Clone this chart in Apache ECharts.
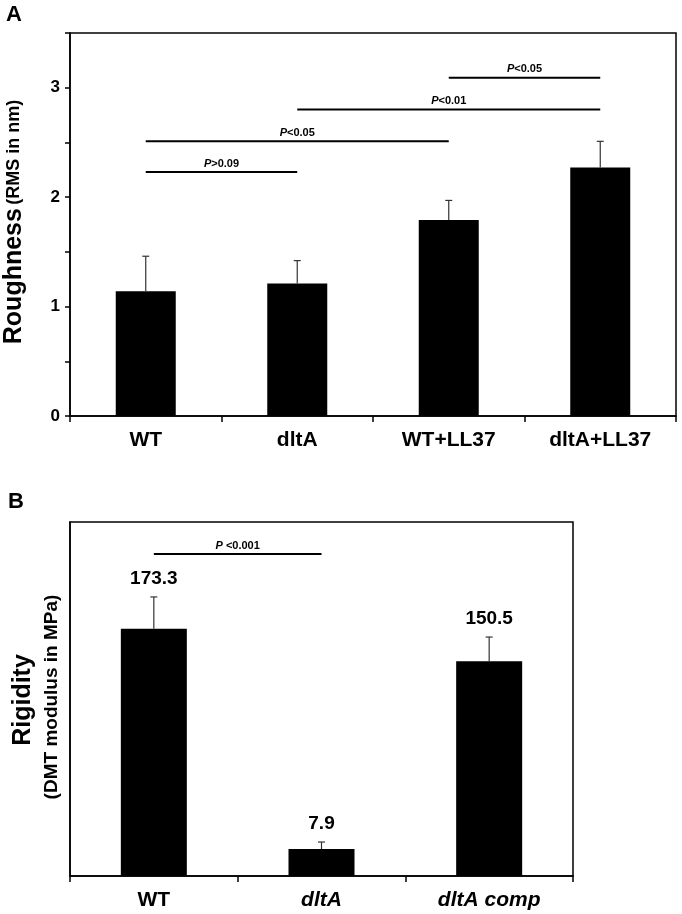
<!DOCTYPE html>
<html>
<head>
<meta charset="utf-8">
<script src="https://cdn.jsdelivr.net/npm/echarts@6/dist/echarts.min.js"></script>
<style>
html,body{margin:0;padding:0;background:#fff;}
#chart{width:682px;height:914px;}
</style>
</head>
<body>
<div id="chart"></div>
<script>
// ---------- Panel A data ----------
var roughCategories = ['WT', 'dltA', 'WT+LL37', 'dltA+LL37'];
var roughMeans = [1.14, 1.21, 1.79, 2.27];
var roughSD = [0.32, 0.21, 0.18, 0.24];
var roughTickLabels = ['0', '1', '2', '3'];
// significance brackets: [from category, to category, height, text]
var roughSigFrom = [0, 0, 1, 2];
var roughSigTo = [1, 2, 3, 3];
var roughSigY = [2.23, 2.51, 2.80, 3.09];
var roughSigText = ['>0.09', '<0.05', '<0.01', '<0.05'];

// ---------- Panel B data ----------
var rigidCategories = ['WT', 'dltA', 'dltA comp'];
var rigidItalic = [false, true, true];
var rigidBarHeights = [173.3, 18.9, 150.5];   // bar heights as drawn in the figure
var rigidSD = [22.2, 4.9, 16.9];
var rigidValueLabels = ['173.3', '7.9', '150.5'];
var rigidSigFrom = [0];
var rigidSigTo = [1];
var rigidSigY = [225.6];
var rigidSigText = [' <0.001'];

var FONT = '"Liberation Sans", Arial, Helvetica, sans-serif';

function errorRender(withLabels) {
  return function (params, api) {
    var idx = api.value(0);
    var base = api.coord([idx, api.value(1)]);
    var top = api.coord([idx, api.value(2)]);
    var half = 3.5;
    var st = { stroke: '#333', lineWidth: 1.2 };
    var children = [
      { type: 'line', shape: { x1: base[0], y1: base[1], x2: top[0], y2: top[1] }, style: st },
      { type: 'line', shape: { x1: top[0] - half, y1: top[1], x2: top[0] + half, y2: top[1] }, style: st }
    ];
    if (withLabels) {
      children.push({
        type: 'text',
        style: {
          text: rigidValueLabels[params.dataIndex],
          x: top[0], y: top[1] - 9,
          textAlign: 'center', align: 'center',
          textVerticalAlign: 'bottom', verticalAlign: 'bottom',
          font: 'bold 19px ' + FONT, fill: '#000'
        }
      });
    }
    return { type: 'group', children: children };
  };
}

function sigRender(texts) {
  return function (params, api) {
    var a = api.coord([api.value(0), api.value(2)]);
    var b = api.coord([api.value(1), api.value(2)]);
    return {
      type: 'group',
      children: [
        { type: 'line', shape: { x1: a[0], y1: a[1], x2: b[0], y2: b[1] }, style: { stroke: '#000', lineWidth: 2 } },
        {
          type: 'text',
          style: {
            text: '{i|P}{n|' + texts[params.dataIndex] + '}',
            x: (a[0] + b[0]) / 2, y: a[1] - 3,
            textAlign: 'center', align: 'center',
            textVerticalAlign: 'bottom', verticalAlign: 'bottom',
            rich: {
              i: { fontStyle: 'italic', fontWeight: 'bold', fontSize: 11, fontFamily: FONT, fill: '#000', color: '#000' },
              n: { fontWeight: 'bold', fontSize: 11, fontFamily: FONT, fill: '#000', color: '#000' }
            }
          }
        }
      ]
    };
  };
}

var roughErr = roughMeans.map(function (m, i) { return [i, m, m + roughSD[i]]; });
var roughSig = roughSigFrom.map(function (f, i) { return [f, roughSigTo[i], roughSigY[i]]; });
var rigidErr = rigidBarHeights.map(function (m, i) { return [i, m, m + rigidSD[i]]; });
var rigidSig = rigidSigFrom.map(function (f, i) { return [f, rigidSigTo[i], rigidSigY[i]]; });

var chart = echarts.init(document.getElementById('chart'), null, { renderer: 'canvas' });
chart.setOption({
  animation: false,
  backgroundColor: '#fff',
  textStyle: { fontFamily: FONT },
  grid: [
    { left: 70, right: 6, top: 33, bottom: 498, show: true, borderColor: '#000', borderWidth: 1.5, backgroundColor: 'transparent' },
    { left: 70, right: 109, top: 522, bottom: 38, show: true, borderColor: '#000', borderWidth: 1.5, backgroundColor: 'transparent' }
  ],
  xAxis: [
    {
      gridIndex: 0, type: 'category', data: roughCategories,
      axisLine: { lineStyle: { color: '#000', width: 1.5 } },
      axisTick: { show: true, length: 6, inside: false, lineStyle: { color: '#000', width: 1.5 } },
      axisLabel: { color: '#000', fontWeight: 'bold', fontSize: 21, margin: 14, fontFamily: FONT }
    },
    {
      gridIndex: 1, type: 'category', data: rigidCategories,
      axisLine: { lineStyle: { color: '#000', width: 1.5 } },
      axisTick: { show: true, length: 6, lineStyle: { color: '#000', width: 1.5 } },
      axisLabel: {
        margin: 14,
        formatter: function (v, i) { return rigidItalic[i] ? '{i|' + v + '}' : '{n|' + v + '}'; },
        rich: {
          i: { color: '#000', fontWeight: 'bold', fontStyle: 'italic', fontSize: 21, fontFamily: FONT },
          n: { color: '#000', fontWeight: 'bold', fontSize: 21, fontFamily: FONT }
        }
      }
    }
  ],
  yAxis: [
    {
      gridIndex: 0, type: 'value', min: 0, max: 3.5, interval: 0.5,
      splitLine: { show: false },
      axisLine: { show: true, lineStyle: { color: '#000', width: 1.5 } },
      axisTick: { show: true, length: 5, lineStyle: { color: '#000', width: 1.5 } },
      axisLabel: {
        color: '#000', fontWeight: 'bold', fontSize: 17, margin: 10, fontFamily: FONT,
        formatter: function (v) {
          var k = roughTickLabels.indexOf(String(v));
          return k >= 0 ? roughTickLabels[k] : '';
        }
      }
    },
    {
      gridIndex: 1, type: 'value', min: 0, max: 248,
      splitLine: { show: false },
      axisLine: { show: true, lineStyle: { color: '#000', width: 1.5 } },
      axisTick: { show: false },
      axisLabel: { show: false }
    }
  ],
  series: [
    { type: 'bar', xAxisIndex: 0, yAxisIndex: 0, data: roughMeans, barWidth: 60, itemStyle: { color: '#000' } },
    { type: 'custom', xAxisIndex: 0, yAxisIndex: 0, data: roughErr, renderItem: errorRender(false), z: 3 },
    { type: 'custom', xAxisIndex: 0, yAxisIndex: 0, data: roughSig, renderItem: sigRender(roughSigText), z: 3 },
    { type: 'bar', xAxisIndex: 1, yAxisIndex: 1, data: rigidBarHeights, barWidth: 66, itemStyle: { color: '#000' } },
    { type: 'custom', xAxisIndex: 1, yAxisIndex: 1, data: rigidErr, renderItem: errorRender(true), z: 3 },
    { type: 'custom', xAxisIndex: 1, yAxisIndex: 1, data: rigidSig, renderItem: sigRender(rigidSigText), z: 3 }
  ],
  graphic: [
    { type: 'text', left: 6, top: 4, style: { text: 'A', font: 'bold 22px ' + FONT, fill: '#000' } },
    { type: 'text', left: 8, top: 491, style: { text: 'B', font: 'bold 22px ' + FONT, fill: '#000' } },
    {
      type: 'text', x: 14, y: 222, rotation: Math.PI / 2,
      style: {
        text: '{a|Roughness} {b|(RMS in nm)}',
        textAlign: 'center', align: 'center', textVerticalAlign: 'middle', verticalAlign: 'middle',
        rich: {
          a: { fontWeight: 'bold', fontSize: 25, fontFamily: FONT, fill: '#000', color: '#000' },
          b: { fontWeight: 'bold', fontSize: 18, fontFamily: FONT, fill: '#000', color: '#000' }
        }
      }
    },
    {
      type: 'text', x: 23, y: 700, rotation: Math.PI / 2,
      style: { text: 'Rigidity', textAlign: 'center', align: 'center', textVerticalAlign: 'middle', verticalAlign: 'middle', font: 'bold 25px ' + FONT, fill: '#000' }
    },
    {
      type: 'text', x: 52, y: 697, rotation: Math.PI / 2,
      style: { text: '(DMT modulus in MPa)', textAlign: 'center', align: 'center', textVerticalAlign: 'middle', verticalAlign: 'middle', font: 'bold 19px ' + FONT, fill: '#000' }
    }
  ]
});
</script>
</body>
</html>
